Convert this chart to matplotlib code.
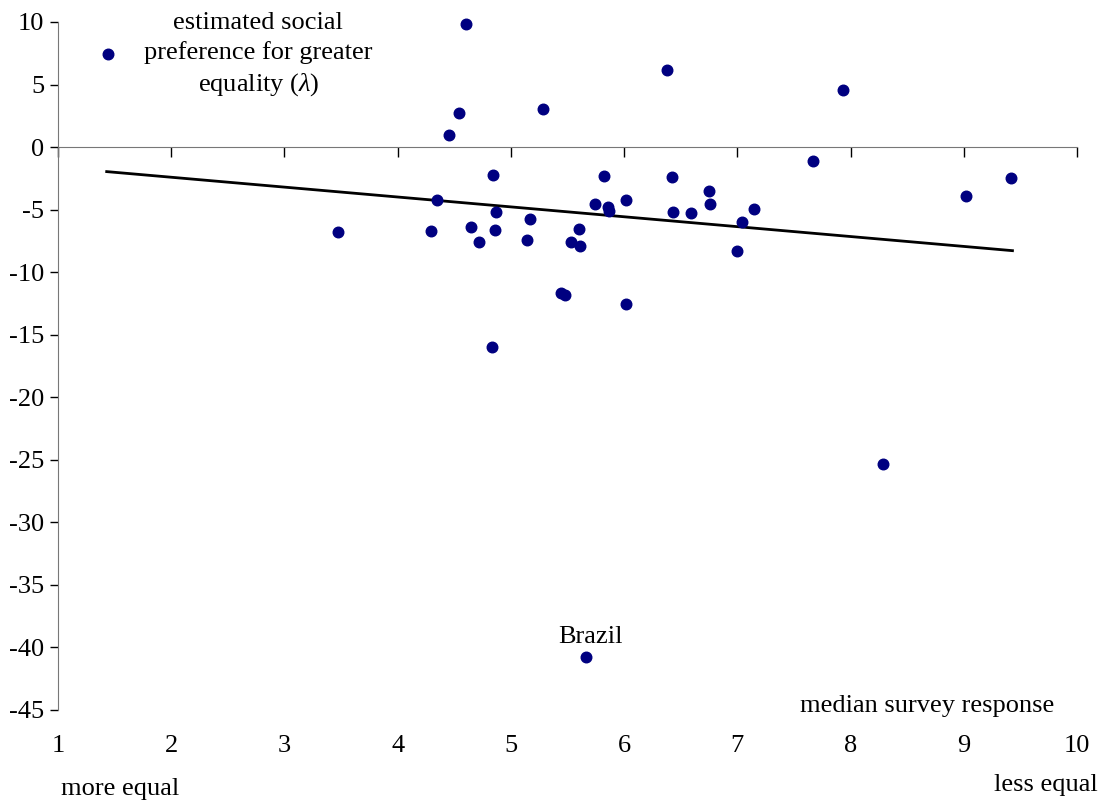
import numpy as np
import matplotlib.pyplot as plt

plt.rcParams['font.family'] = ['Liberation Serif', 'DejaVu Serif']
plt.rcParams['mathtext.fontset'] = 'custom'
plt.rcParams['mathtext.it'] = 'Liberation Serif:italic'
plt.rcParams['mathtext.rm'] = 'Liberation Serif'

# median survey response (x) and estimated lambda (y)
survey = [3.47, 4.29, 4.35, 4.65, 4.72, 4.84, 4.87, 4.86, 4.45, 5.14,
          5.17, 5.53, 5.61, 5.60, 5.44, 5.48, 5.74, 5.82, 5.86, 5.87,
          6.02, 6.02, 6.42, 6.43, 6.59, 6.75, 6.76, 7.00, 7.04, 7.15,
          4.60, 4.54, 5.28, 6.38, 7.93, 7.67, 9.02, 9.42, 4.83, 8.29,
          5.66]
lam = [-6.82, -6.74, -4.20, -6.38, -7.62, -2.20, -5.16, -6.66, 1.00, -7.42,
       -5.78, -7.56, -7.90, -6.58, -11.64, -11.80, -4.52, -2.30, -4.76, -5.14,
       -4.22, -12.58, -2.38, -5.22, -5.27, -3.54, -4.58, -8.28, -5.96, -4.94,
       9.88, 2.76, 3.08, 6.20, 4.60, -1.08, -3.88, -2.44, -15.96, -25.32,
       -40.80]

# fitted line endpoints
trend_x = [1.43, 9.43]
trend_y = [-1.96, -8.28]

xticks = [1, 2, 3, 4, 5, 6, 7, 8, 9, 10]
yticks = [10, 5, 0, -5, -10, -15, -20, -25, -30, -35, -40, -45]

fs = 19
axcol = '#777777'

fig = plt.figure(figsize=(11.04, 8), dpi=100)
ax = fig.add_axes([58/1104, 1-710/800, (1077-58)/1104, (710-22)/800])

ax.plot(trend_x, trend_y, color='black', lw=2, zorder=2)
pts, = ax.plot(survey, lam, 'o', color='#000080', ms=7.6, zorder=3, clip_on=False,
               label='estimated social\npreference for greater\nequality ($\\it{\\lambda}$)')

ax.set_xlim(1, 10)
ax.set_ylim(-45, 10)

ax.spines['top'].set_visible(False)
ax.spines['right'].set_visible(False)
ax.spines['left'].set_color(axcol)
ax.spines['bottom'].set_color(axcol)
ax.spines['bottom'].set_position(('data', 0))

ax.set_yticks(yticks)
ax.set_yticklabels([str(t) for t in yticks])
ax.set_xticks(xticks)
ax.set_xticklabels([])
ax.tick_params(axis='y', direction='out', length=6, width=1, color='black',
               labelsize=fs, pad=4)
ax.tick_params(axis='x', direction='out', length=7, width=1, color='black')

# x tick labels drawn at the bottom of the plot
for t in xticks:
    ax.text(t, -47.9, str(t), ha='center', va='center', fontsize=fs)

ax.text(1.03, -51.3, 'more equal', ha='left', va='center', fontsize=fs)
ax.text(10.18, -51.0, 'less equal', ha='right', va='center', fontsize=fs,
        clip_on=False)
ax.text(8.68, -44.7, 'median survey response', ha='center', va='center', fontsize=fs)
ax.text(5.70, -39.2, 'Brazil', ha='center', va='center', fontsize=fs)

leg = ax.legend(handles=[pts], loc='center left', frameon=False,
                bbox_to_anchor=(82/1104, 1-55/800), bbox_transform=fig.transFigure,
                fontsize=fs, handlelength=1.0, handletextpad=0.85, borderpad=0)
leg.get_texts()[0].set_multialignment('center')
leg.get_texts()[0].set_linespacing(1.38)

fig.savefig('out.png', dpi=100)
